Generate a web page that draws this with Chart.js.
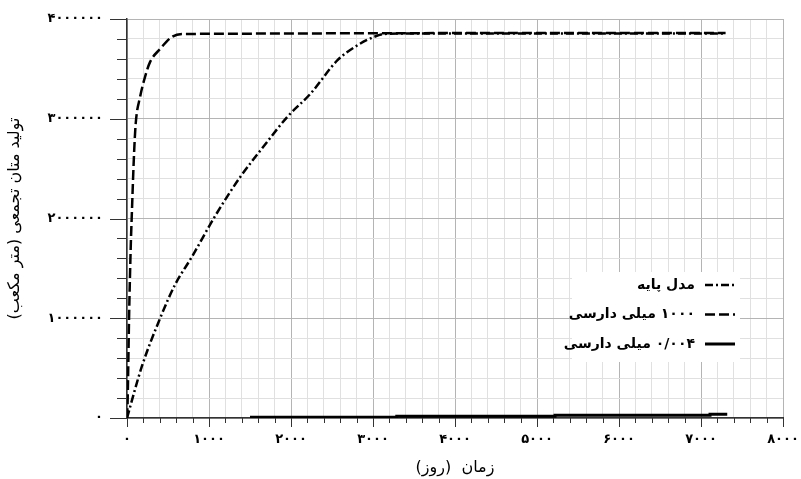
<!DOCTYPE html>
<html>
<head>
<meta charset="utf-8">
<script src="https://cdn.jsdelivr.net/npm/chart.js@4.4.1/dist/chart.umd.min.js"></script>
<style>
    html, body { margin: 0; padding: 0; background: #fff; }
    #wrap { width: 801px; height: 479px; }
</style>
</head>
<body>
<div id="wrap"><canvas id="methaneChart" dir="rtl"></canvas></div>
<script>
// names of the three runs
const seriesNames = ['مدل پایه', '۱۰۰۰ میلی دارسی', '۰/۰۰۴ میلی دارسی'];

// base model (dash-dot)
const baseDays = [0, 180, 404, 588, 792, 1057, 1220, 1383, 1710, 1955, 2240, 2567, 2811, 3015, 3137, 3400, 7300];
const baseGas  = [0, 514000, 1000000, 1340000, 1616000, 2001000, 2217000, 2418000, 2769000, 3019000, 3253000, 3587000, 3737000, 3821000, 3850000, 3855000, 3855000];

// 1000 md (dashed)
const highDays = [0, 8, 25, 45, 57, 86, 106, 160, 220, 282, 404, 547, 670, 7300];
const highGas  = [0, 180000, 1000000, 1700000, 2000000, 2650000, 2950000, 3220000, 3420000, 3570000, 3700000, 3820000, 3850000, 3860000];

// 0.004 md (solid, stepped)
const lowDays = [1500, 3290, 5220, 7110, 7320];
const lowGas  = [8000, 17000, 27000, 38000, 38000];

// tick labels
const xTickLabels = ['۰', '۱۰۰۰', '۲۰۰۰', '۳۰۰۰', '۴۰۰۰', '۵۰۰۰', '۶۰۰۰', '۷۰۰۰', '۸۰۰۰'];
const yTickLabels = ['۰', '۱۰۰۰۰۰۰', '۲۰۰۰۰۰۰', '۳۰۰۰۰۰۰', '۴۰۰۰۰۰۰'];

function toPoints(xs, ys){
    return xs.map(function(x, i){ return {x: x, y: ys[i]}; });
}

// tick marks: long on the labelled ticks, short in between
const axisTicks = {
    id: 'axisTicks',
    afterDraw: function(chart){
        const ctx = chart.ctx;
        const xs = chart.scales.x, ys = chart.scales.y;
        ctx.save();
        ctx.strokeStyle = '#333';
        ctx.lineWidth = 1;
        xs.ticks.forEach(function(t){
            const px = Math.round(xs.getPixelForValue(t.value)) + 0.5;
            const len = t.value % 1000 === 0 ? 9 : 5;
            ctx.beginPath();
            ctx.moveTo(px, xs.top);
            ctx.lineTo(px, xs.top + len);
            ctx.stroke();
        });
        ys.ticks.forEach(function(t){
            const py = Math.round(ys.getPixelForValue(t.value)) + 0.5;
            const len = t.value % 1000000 === 0 ? 17 : 10;
            ctx.beginPath();
            ctx.moveTo(ys.right, py);
            ctx.lineTo(ys.right - len, py);
            ctx.stroke();
        });
        ctx.restore();
    }
};

// legend box inside the plot, lower right
const boxLegend = {
    id: 'boxLegend',
    afterDraw: function(chart){
        const ctx = chart.ctx;
        const area = chart.chartArea;
        const left = area.right - 211, top = area.bottom - 146;
        ctx.save();
        ctx.fillStyle = '#fff';
        ctx.fillRect(left, top, 168, 90);
        ctx.direction = 'rtl';
        ctx.textAlign = 'right';
        ctx.textBaseline = 'middle';
        ctx.font = 'bold 14px "DejaVu Sans"';
        chart.data.datasets.forEach(function(ds, i){
            const y = top + 13 + i * 29.5;
            ctx.fillStyle = '#000';
            ctx.fillText(ds.label, left + 123, y);
            ctx.strokeStyle = ds.borderColor;
            ctx.lineWidth = ds.borderWidth;
            ctx.setLineDash(ds.borderDash || []);
            ctx.beginPath();
            ctx.moveTo(left + 133, y);
            ctx.lineTo(left + 163, y);
            ctx.stroke();
        });
        ctx.restore();
    }
};

Chart.defaults.font.family = '"DejaVu Sans"';
Chart.defaults.color = '#000';

const ctx = document.getElementById('methaneChart').getContext('2d');

const config = {
    type: 'line',
    data: {
        datasets: [{
            label: seriesNames[0],
            data: toPoints(baseDays, baseGas),
            borderColor: '#000',
            borderWidth: 2.5,
            borderDash: [8, 3, 2, 3],
            cubicInterpolationMode: 'monotone',
            pointRadius: 0,
            fill: false
        }, {
            label: seriesNames[1],
            data: toPoints(highDays, highGas),
            borderColor: '#000',
            borderWidth: 2.5,
            borderDash: [10, 4],
            cubicInterpolationMode: 'monotone',
            pointRadius: 0,
            fill: false
        }, {
            label: seriesNames[2],
            data: toPoints(lowDays, lowGas),
            borderColor: '#000',
            borderWidth: 3,
            stepped: true,
            pointRadius: 0,
            fill: false
        }]
    },
    options: {
        responsive: true,
        maintainAspectRatio: false,
        animation: false,
        layout: { padding: { top: 19, right: 18, left: 0, bottom: 0 } },
        plugins: {
            legend: { display: false },
            tooltip: { enabled: false }
        },
        scales: {
            x: {
                type: 'linear',
                min: 0,
                max: 8000,
                afterFit: function(s){
                    s.height = 61;
                    s.paddingLeft = 0;
                    s.paddingRight = 0;
                },
                ticks: {
                    stepSize: 200,
                    autoSkip: false,
                    maxRotation: 0,
                    padding: 14,
                    font: { size: 13, weight: 'bold' },
                    callback: function(v){ return v % 1000 === 0 ? xTickLabels[v / 1000] : ''; }
                },
                grid: {
                    drawTicks: false,
                    color: function(c){ return c.tick && c.tick.value % 1000 === 0 ? '#b4b4b4' : '#e0e0e0'; }
                },
                border: { color: '#333', width: 1.5 },
                title: {
                    display: true,
                    text: 'زمان  (روز)',
                    font: { size: 16 },
                    padding: { top: 0, bottom: 2 }
                }
            },
            y: {
                min: 0,
                max: 4000000,
                afterFit: function(s){
                    s.width = 127;
                    s.paddingTop = 0;
                    s.paddingBottom = 0;
                },
                ticks: {
                    stepSize: 200000,
                    autoSkip: false,
                    padding: 24,
                    font: { size: 13, weight: 'bold' },
                    callback: function(v){ return v % 1000000 === 0 ? yTickLabels[v / 1000000] : ''; }
                },
                grid: {
                    drawTicks: false,
                    color: function(c){ return c.tick && c.tick.value % 1000000 === 0 ? '#b4b4b4' : '#e0e0e0'; }
                },
                border: { color: '#333', width: 1.5 },
                title: {
                    display: true,
                    text: 'تولید متان تجمعی (متر مکعب)',
                    font: { size: 16 },
                    padding: { top: 5, bottom: 0 }
                }
            }
        }
    },
    plugins: [axisTicks, boxLegend]
};

const methaneChart = new Chart(ctx, config);
</script>
</body>
</html>
